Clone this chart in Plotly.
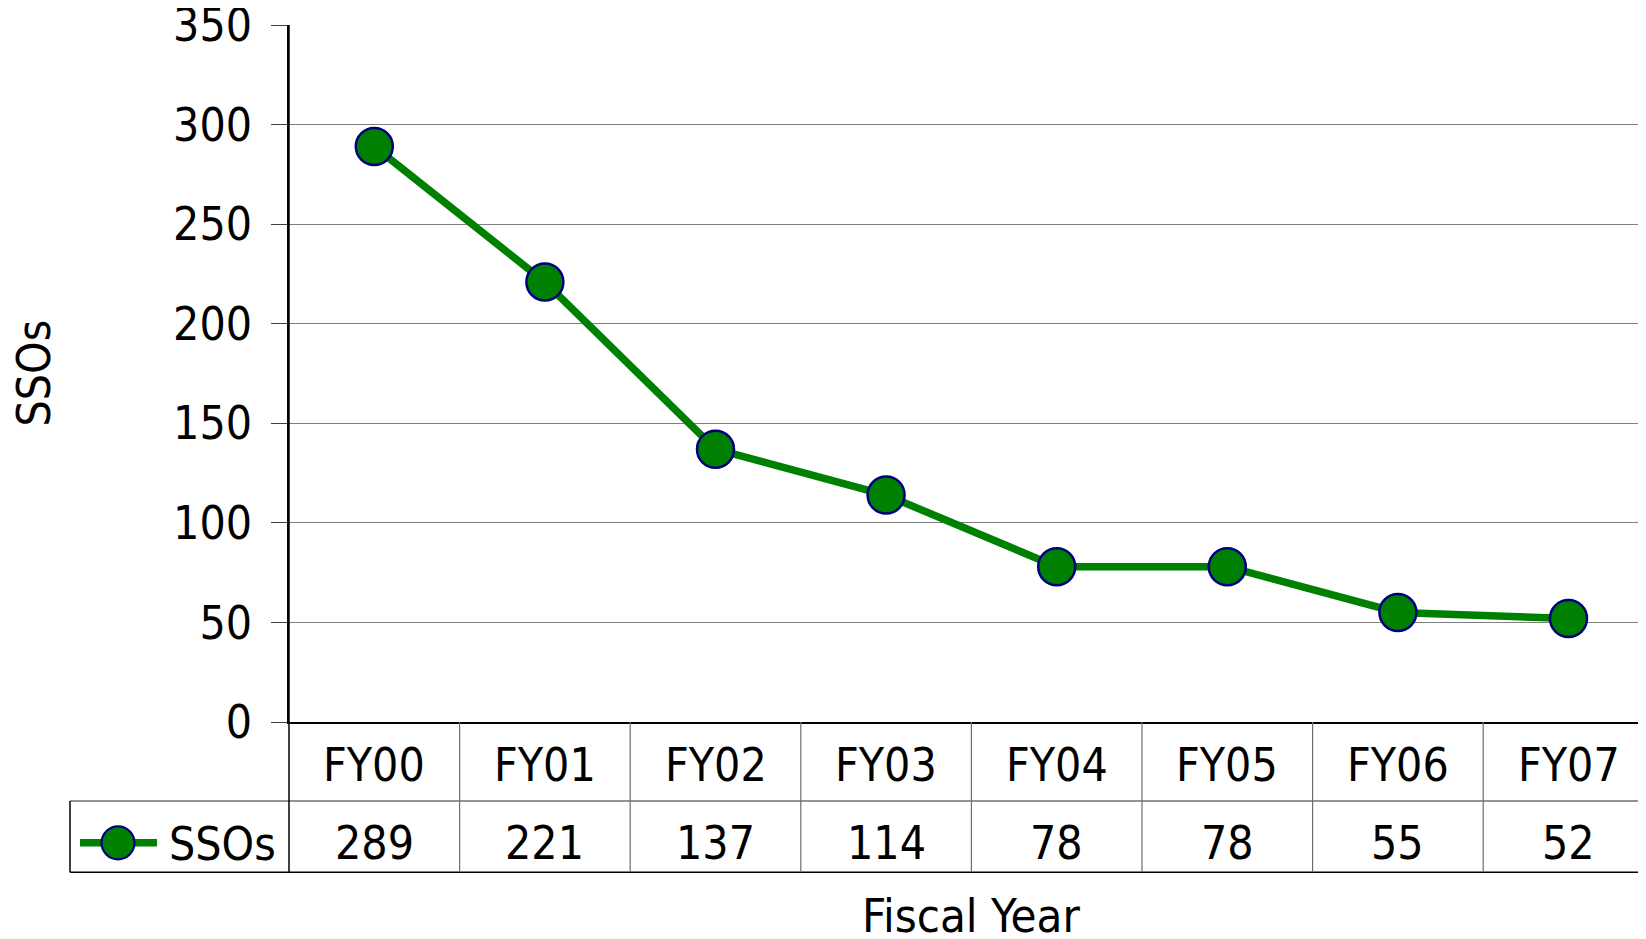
import plotly.graph_objects as go

categories = ["FY00", "FY01", "FY02", "FY03", "FY04", "FY05", "FY06", "FY07"]
ssos = [289, 221, 137, 114, 78, 78, 55, 52]
series_name = "SSOs"
y_ticks = [0, 50, 100, 150, 200, 250, 300, 350]

OFF = 8  # default page body margin
W, H = 1646 - OFF, 939 - OFF
L, T = 289 - OFF, 24.7 - OFF
Y0 = 722.5 - OFF          # figure pixel of y=0
PLOT_W = W - L
PLOT_H = Y0 - T
COLW = 170.6

FONT = "DejaVu Sans Condensed, Liberation Sans, Arial, sans-serif"
FS = 46
GREEN = "#008000"
NAVY = "#000080"


def px(p):
    """reference page x pixel -> paper x"""
    return (p - OFF - L) / PLOT_W


def py(p):
    """reference page y pixel -> paper y"""
    return (Y0 - (p - OFF)) / PLOT_H


fig = go.Figure()
fig.add_trace(go.Scatter(
    x=list(range(len(categories))), y=ssos, mode="lines+markers", name=series_name,
    line=dict(color=GREEN, width=7.5),
    marker=dict(size=37, color=GREEN, line=dict(color=NAVY, width=2.5)),
    showlegend=False, hoverinfo="x+y",
))

n_vis = PLOT_W / COLW
shapes = []
ROW1 = 801.7
ROW2 = 873.0
LEG_L = 70.0
# table lines
shapes.append(dict(type="line", xref="paper", yref="paper", x0=px(LEG_L), x1=1.0,
                   y0=py(ROW1), y1=py(ROW1), line=dict(color="#6e6e6e", width=1.5)))
shapes.append(dict(type="line", xref="paper", yref="paper", x0=px(LEG_L), x1=1.0,
                   y0=py(ROW2), y1=py(ROW2), line=dict(color="#000000", width=1.5)))
shapes.append(dict(type="line", xref="paper", yref="paper", x0=px(LEG_L), x1=px(LEG_L),
                   y0=py(ROW1), y1=py(ROW2), line=dict(color="#000000", width=1.5)))
shapes.append(dict(type="line", xref="paper", yref="paper", x0=0, x1=0,
                   y0=1.0, y1=py(ROW2), line=dict(color="#000000", width=1.5)))
for i in range(len(categories) - 1):
    shapes.append(dict(type="line", xref="x", yref="paper", x0=i + 0.5, x1=i + 0.5,
                       y0=0, y1=py(ROW2), line=dict(color="#6e6e6e", width=1.2)))
# legend glyph
LY = 843.5
shapes.append(dict(type="line", xref="paper", yref="paper", x0=px(80), x1=px(157),
                   y0=py(LY), y1=py(LY), line=dict(color=GREEN, width=7.5)))
R = 16.5
shapes.append(dict(type="circle", xref="paper", yref="paper", x0=px(118 - R), x1=px(118 + R),
                   y0=py(LY - R), y1=py(LY + R), fillcolor=GREEN,
                   line=dict(color=NAVY, width=2.2)))

ann = []
for i, (c, v) in enumerate(zip(categories, ssos)):
    ann.append(dict(x=i, y=py(766), xref="x", yref="paper", text=c, showarrow=False,
                    font=dict(family=FONT, size=FS, color="black"),
                    xanchor="center", yanchor="middle"))
    ann.append(dict(x=i, y=py(844), xref="x", yref="paper", text=str(v), showarrow=False,
                    font=dict(family=FONT, size=FS, color="black"),
                    xanchor="center", yanchor="middle"))
ann.append(dict(x=px(222), y=py(845), xref="paper", yref="paper", text=series_name,
                showarrow=False, font=dict(family=FONT, size=FS, color="black"),
                xanchor="center", yanchor="middle"))
ann.append(dict(x=px(33), y=0.5, xref="paper", yref="paper", text="SSOs", textangle=-90,
                showarrow=False, font=dict(family=FONT, size=FS, color="black"),
                xanchor="center", yanchor="middle", borderpad=0))
ann.append(dict(x=px(971), y=py(916), xref="paper", yref="paper", text="Fiscal Year",
                showarrow=False, font=dict(family=FONT, size=FS + 1, color="black"),
                xanchor="center", yanchor="middle", borderpad=0))

fig.update_layout(
    width=W, height=H,
    margin=dict(l=L, r=0, t=T, b=H - Y0, pad=0, autoexpand=False),
    plot_bgcolor="white", paper_bgcolor="white",
    font=dict(family=FONT, size=FS, color="black"),
    xaxis=dict(range=[-0.5, -0.5 + n_vis], showticklabels=False, showgrid=False,
               zeroline=False, showline=True, linecolor="black", linewidth=1.5,
               ticks="", automargin=False),
    yaxis=dict(range=[0, 350.05], tickvals=y_ticks, ticktext=[str(t) for t in y_ticks],
               showgrid=True, gridcolor="#808080", gridwidth=1.2, zeroline=False,
               showline=True, linecolor="black", linewidth=1.5,
               ticks="outside", ticklen=16, tickcolor="#404040", tickwidth=1.2,
               tickfont=dict(family=FONT, size=FS), ticklabelstandoff=10,
               automargin=False, ticklabeloverflow="allow"),
    shapes=shapes, annotations=ann,
)

fig.write_html("out.html")
